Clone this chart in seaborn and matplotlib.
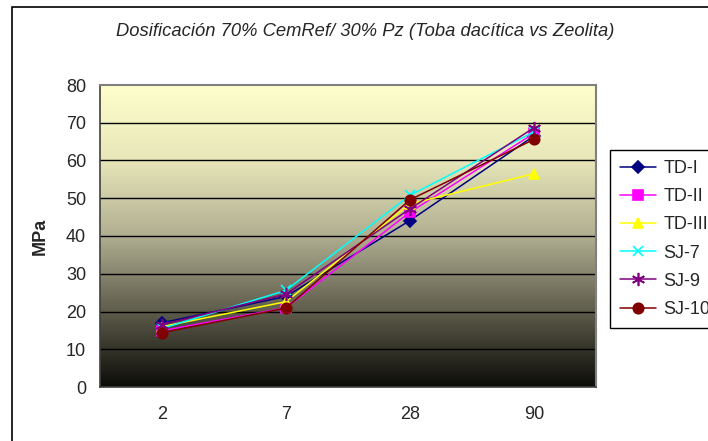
import numpy as np
import pandas as pd
import matplotlib
matplotlib.use("Agg")
import matplotlib.pyplot as plt
from matplotlib.colors import LinearSegmentedColormap
from matplotlib.patches import Rectangle
import seaborn as sns

# ---- data ----
days = ["2", "7", "28", "90"]
series_names = ["TD-I", "TD-II", "TD-III", "SJ-7", "SJ-9", "SJ-10"]
td_i = [17.0, 24.0, 44.1, 66.5]
td_ii = [14.9, 21.0, 46.3, 67.2]
td_iii = [16.0, 22.6, 48.5, 56.5]
sj_7 = [15.5, 25.6, 50.8, 67.6]
sj_9 = [16.5, 24.6, 47.2, 68.7]
sj_10 = [14.4, 20.9, 49.6, 65.6]
values = [td_i, td_ii, td_iii, sj_7, sj_9, sj_10]
y_ticks = [0, 10, 20, 30, 40, 50, 60, 70, 80]

title = "Dosificación 70% CemRef/ 30% Pz (Toba dacítica vs Zeolita)"
ylabel = "MPa"

colors = {"TD-I": "#000080", "TD-II": "#FF00FF", "TD-III": "#FFFF00",
          "SJ-7": "#00FFFF", "SJ-9": "#800080", "SJ-10": "#800000"}
markers = {"TD-I": "D", "TD-II": "s", "TD-III": "^",
           "SJ-7": "x", "SJ-9": (6, 2, 0), "SJ-10": "o"}
msizes = {"TD-I": 6, "TD-II": 6.5, "TD-III": 7.5, "SJ-7": 7.5, "SJ-9": 9.5, "SJ-10": 7.5}

rows = []
for name, vals in zip(series_names, values):
    for i, (d, v) in enumerate(zip(days, vals)):
        rows.append({"serie": name, "pos": i, "dia": d, "MPa": v})
df = pd.DataFrame(rows)

sns.set_style("white")
plt.rcParams["font.family"] = ["Liberation Sans", "DejaVu Sans"]

W, H = 708, 441
fig = plt.figure(figsize=(W / 100, H / 100), dpi=100)
ax = fig.add_axes([100 / W, 54 / H, 496 / W, 302 / H])

# gradient background
cmap = LinearSegmentedColormap.from_list(
    "grad", [(0.0, "#0c0c08"), (0.25, "#5e5c4b"), (0.5, "#b0ae90"),
             (0.75, "#e6e6b9"), (1.0, "#ffffcc")])
grad = np.linspace(0, 1, 256).reshape(-1, 1)
ax.imshow(grad, extent=[-0.5, 3.5, 0, 80], origin="lower", aspect="auto",
          cmap=cmap, zorder=0)

for y in y_ticks[1:-1]:
    ax.axhline(y, color="black", lw=1.0, zorder=1)

for name in series_names:
    sub = df[df["serie"] == name]
    sns.lineplot(data=sub, x="pos", y="MPa", ax=ax, color=colors[name],
                 marker=markers[name], markersize=msizes[name],
                 markeredgecolor=colors[name], markerfacecolor=colors[name],
                 markeredgewidth=1.2, lw=1.1, label=name, zorder=3,
                 legend=False)

ax.set_xlim(-0.5, 3.5)
ax.set_ylim(0, 80)
ax.set_xticks(range(len(days)))
ax.set_xticklabels(days)
ax.set_xticks(np.arange(-0.5, 3.6, 1.0), minor=True)
ax.tick_params(axis="x", which="major", length=0, pad=14, labelsize=13)
ax.tick_params(axis="x", which="minor", length=6, width=1, color="#404040",
               direction="out")
ax.set_yticks(y_ticks)
ax.tick_params(axis="y", which="major", length=7, width=1, color="#404040",
               direction="out", pad=3, labelsize=13)
ax.set_xlabel("")
ax.set_ylabel(ylabel, fontsize=13, fontweight="bold", labelpad=12)

for side in ["left", "bottom"]:
    ax.spines[side].set_color("#404040")
    ax.spines[side].set_linewidth(1.2)
for side in ["top", "right"]:
    ax.spines[side].set_color("#808080")
    ax.spines[side].set_linewidth(1.5)

fig.text(365 / W, 1 - 32 / H, title, ha="center", va="center",
         fontsize=13.2, style="italic")

handles, labels = ax.get_legend_handles_labels()
leg = fig.legend(handles, labels, loc="upper left",
                 bbox_to_anchor=(610 / W, 1 - 150 / H),
                 frameon=True, fancybox=False, fontsize=13,
                 handlelength=2.0, handletextpad=0.4, labelspacing=0.62,
                 borderpad=0.55, borderaxespad=0, edgecolor="black",
                 framealpha=1)
leg.get_frame().set_linewidth(1.0)

# outer chart border
fig.patches.append(Rectangle((12 / W, -0.1), 1.2, 1 - 7 / H + 0.1,
                             transform=fig.transFigure, fill=False,
                             edgecolor="black", lw=1.2))

fig.savefig("out.png", dpi=100)
